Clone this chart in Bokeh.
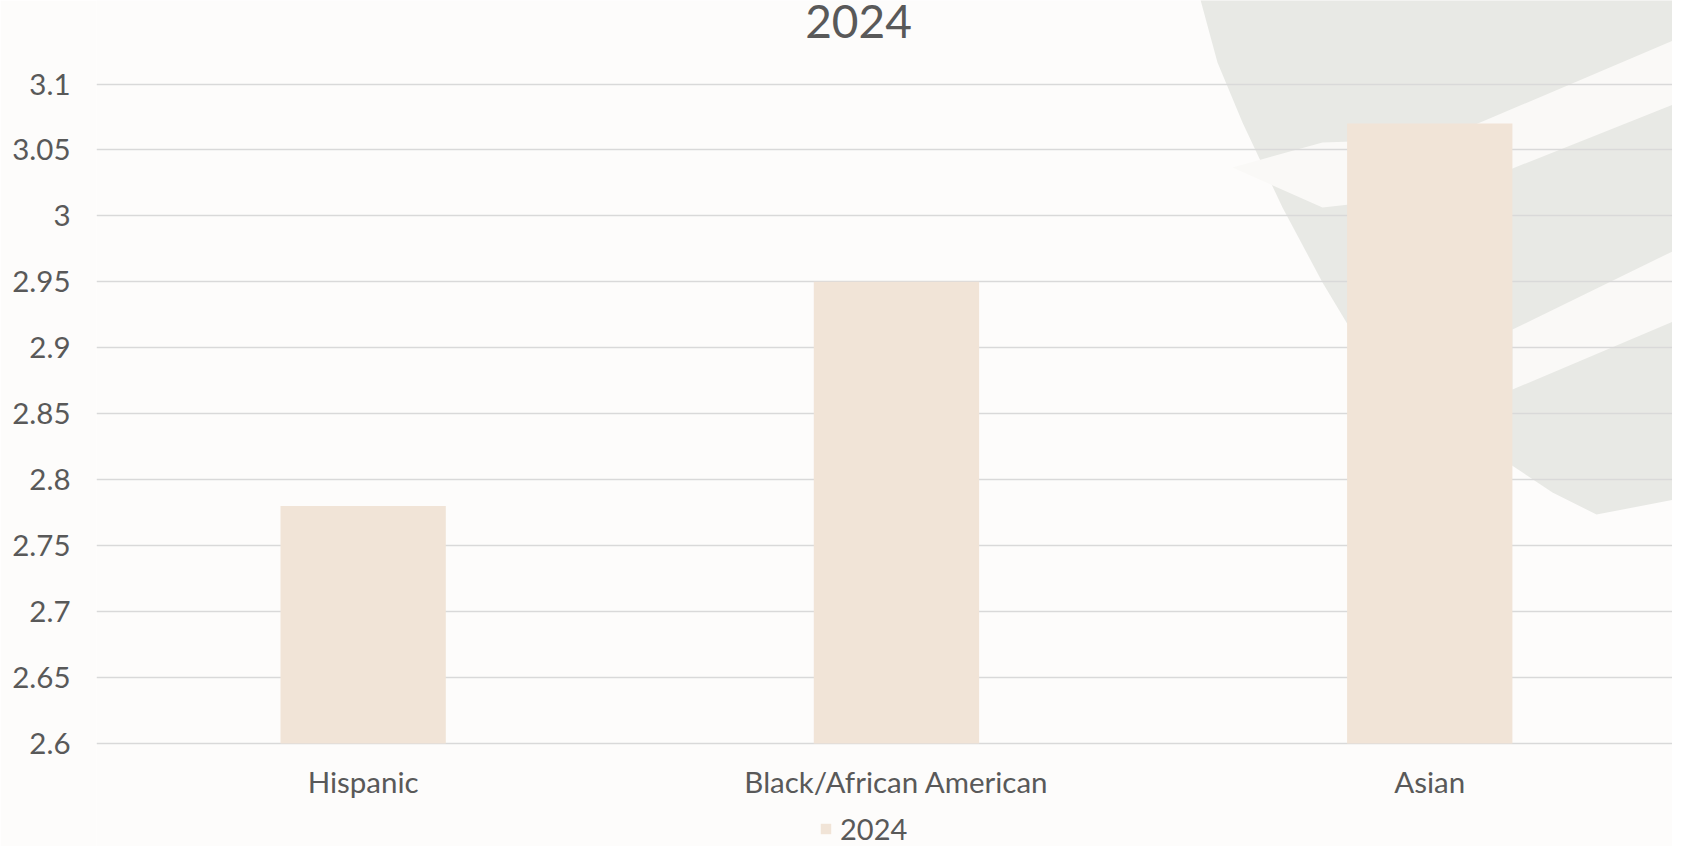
from bokeh.plotting import figure
from bokeh.models import (Range1d, FixedTicker, Legend, LegendItem, ColumnDataSource,
                          PolyAnnotation, Label)
from bokeh.core.properties import value
from bokeh.embed import file_html
from bokeh.resources import INLINE

categories = ["Hispanic", "Black/African American", "Asian"]
values_2024 = [2.78, 2.95, 3.07]
series_name = "2024"
y_ticks = [2.6, 2.65, 2.7, 2.75, 2.8, 2.85, 2.9, 2.95, 3.0, 3.05, 3.1]
y_tick_labels = ["2.6", "2.65", "2.7", "2.75", "2.8", "2.85", "2.9", "2.95", "3", "3.05", "3.1"]

FONT = "Lato"
TXT = "#595959"
BAR = "#F1E4D7"

xpos = [i + 0.5 for i in range(len(categories))]
base = [y_ticks[0]] * len(categories)
src = ColumnDataSource(dict(x=xpos, top=values_2024, cat=categories, base=base))

# layout (canvas pixels): frame covers the full canvas height so nothing is clipped
FW, FH = 1576, 846
px_per_cat = 533.3
x_end = FW / px_per_cat
top_px, bottom_px = 83.5, 743.0          # canvas y of 3.1 and 2.6 gridlines
px_per_unit = (bottom_px - top_px) / (y_ticks[-1] - y_ticks[0])
y_start = y_ticks[0] - (FH - bottom_px) / px_per_unit
y_end = y_ticks[-1] + top_px / px_per_unit

p = figure(frame_width=FW, frame_height=FH, output_backend="svg", toolbar_location=None,
           x_range=Range1d(0, x_end), y_range=Range1d(y_start, y_end),
           x_axis_location=None,
           min_border_left=96, min_border_right=0, min_border_top=0, min_border_bottom=0)
p.background_fill_color = "#FDFCFB"
p.border_fill_color = "#FDFCFB"
p.outline_line_color = None

# decorative background shape (page pixel coords of the reference -> frame screen coords)
def to_frame(pts):
    return [x - 104 for x, _ in pts], [854 - y for _, y in pts]

blob = [(1206, 0), (1225, 70), (1250, 130), (1290, 215), (1330, 290), (1360, 340),
        (1420, 400), (1500, 460), (1560, 500), (1604, 522), (1688, 506), (1688, 0)]
band1 = [(1240, 175), (1330, 150), (1450, 146), (1688, 45), (1688, 109), (1520, 176),
         (1420, 205), (1330, 215)]
band2 = [(1520, 337), (1688, 255), (1688, 326), (1520, 397)]
for pts, col in ((blob, "#E8E9E5"), (band1, "#FAF9F7"), (band2, "#FAF9F7")):
    xs, ys = to_frame(pts)
    p.add_layout(PolyAnnotation(xs=xs, ys=ys, xs_units="screen", ys_units="screen",
                                fill_color=col, fill_alpha=1.0, line_color=None,
                                level="image"))

r = p.vbar(x="x", top="top", bottom=y_ticks[0], width=0.31, source=src,
           fill_color=BAR, line_color=None)

# category labels under the bars
p.text(x="x", y="base", text="cat", source=src, y_offset=38,
       text_font=value(FONT), text_font_size="29.5px", text_color=TXT,
       text_align="center", text_baseline="middle")

p.yaxis.ticker = FixedTicker(ticks=y_ticks)
p.yaxis.major_label_overrides = {t: l for t, l in zip(y_ticks, y_tick_labels)}
ax = p.yaxis[0]
ax.axis_line_color = None
ax.major_tick_line_color = None
ax.minor_tick_line_color = None
ax.major_label_text_font = FONT
ax.major_label_text_font_size = "29.5px"
ax.major_label_text_color = TXT
ax.major_label_standoff = 20

p.xgrid.grid_line_color = None
p.ygrid.grid_line_color = "#D9D9D9"
p.ygrid.grid_line_width = 1.5
p.ygrid.ticker = FixedTicker(ticks=y_ticks)

title = Label(x=762, y=FH - 21, x_units="screen", y_units="screen", text=series_name,
              text_font=FONT, text_font_size="46px", text_color=TXT,
              text_align="center", text_baseline="middle")
p.add_layout(title)

legend = Legend(items=[LegendItem(label=series_name, renderers=[r])],
                orientation="horizontal", location=(723, 0),
                label_text_font=FONT, label_text_font_size="29px", label_text_color=TXT,
                glyph_width=13, glyph_height=13, background_fill_alpha=0,
                border_line_color=None, padding=0, margin=0, spacing=0,
                label_standoff=8)
p.add_layout(legend, "center")

open("out.html", "w").write(file_html(p, INLINE))
